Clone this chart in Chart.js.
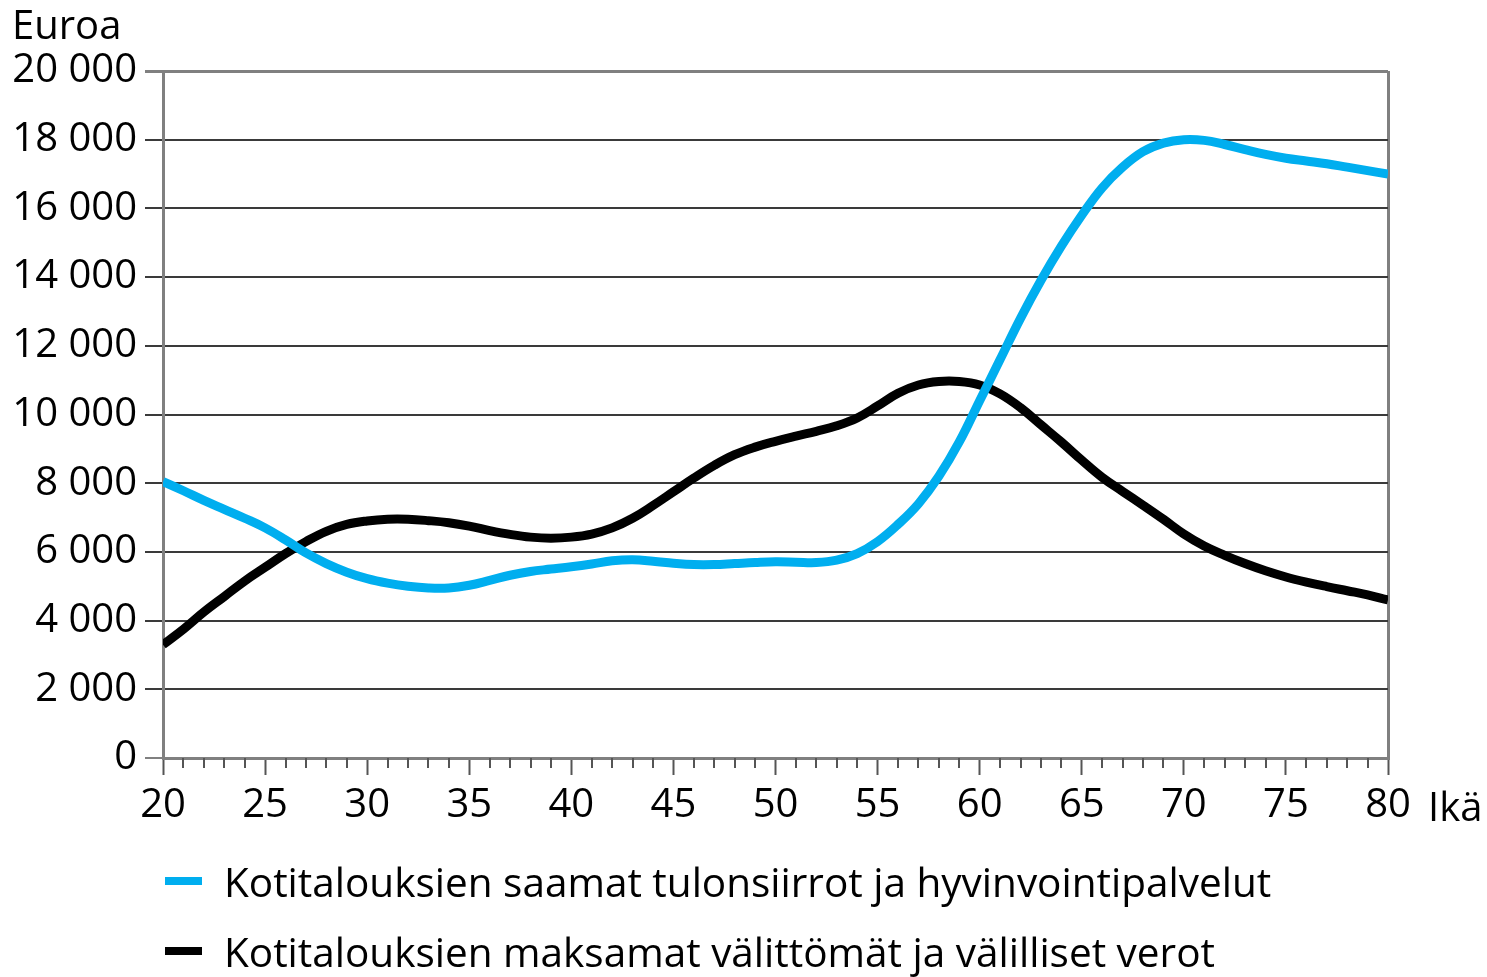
<!DOCTYPE html>
<html>
<head>
<meta charset="utf-8">
<script src="https://cdn.jsdelivr.net/npm/chart.js@4"></script>
<style>
  html, body { margin: 0; padding: 0; background: #fff; }
  #wrap { position: relative; width: 1487px; height: 977px; }
  #legend {
    position: absolute; left: 165px; top: 846px;
    font-family: "Open Sans", sans-serif; font-size: 40.5px; color: #000;
  }
  .item { height: 70px; display: flex; align-items: center; white-space: nowrap; }
  .swatch { width: 37px; height: 8px; margin-right: 22px; }
</style>
</head>
<body>
<div id="wrap">
  <canvas id="chart" width="1487" height="977"></canvas>
  <div id="legend"></div>
</div>
<script>
// age 20..80
const ages = [20, 21, 22, 23, 24, 25, 26, 27, 28, 29, 30, 31, 32, 33, 34, 35, 36, 37, 38, 39,
  40, 41, 42, 43, 44, 45, 46, 47, 48, 49, 50, 51, 52, 53, 54, 55, 56, 57, 58, 59,
  60, 61, 62, 63, 64, 65, 66, 67, 68, 69, 70, 71, 72, 73, 74, 75, 76, 77, 78, 79, 80];

// transfers and welfare services received
const received = [8050, 7780, 7500, 7240, 6980, 6700, 6350, 5970, 5660, 5410,
  5220, 5090, 5000, 4950, 4950, 5030, 5170, 5320, 5430, 5500,
  5570, 5650, 5740, 5770, 5730, 5670, 5630, 5630, 5660, 5690,
  5710, 5700, 5690, 5760, 5950, 6300, 6800, 7400, 8200, 9200,
  10400, 11600, 12800, 13900, 14900, 15800, 16600, 17200, 17650, 17900,
  18000, 17980, 17860, 17710, 17570, 17460, 17380, 17300, 17200, 17100, 17000];

// direct and indirect taxes paid
const paid = [3300, 3750, 4250, 4700, 5150, 5550, 5950, 6300, 6600, 6800,
  6900, 6950, 6950, 6910, 6850, 6750, 6620, 6510, 6430, 6400,
  6430, 6520, 6700, 6980, 7350, 7750, 8150, 8520, 8830, 9050,
  9220, 9370, 9510, 9670, 9900, 10250, 10620, 10860, 10960, 10960,
  10860, 10600, 10200, 9700, 9200, 8670, 8170, 7760, 7360, 6950,
  6520, 6170, 5900, 5660, 5450, 5270, 5120, 4990, 4870, 4750, 4600];

const yTicks = [0, 2000, 4000, 6000, 8000, 10000, 12000, 14000, 16000, 18000, 20000];
const labels = [
  "Kotitalouksien saamat tulonsiirrot ja hyvinvointipalvelut",
  "Kotitalouksien maksamat välittömät ja välilliset verot"
];
const colors = ["#00aeef", "#000000"];

const FONT = '"Open Sans", sans-serif';
const AXIS = "#808080";

function fmt(v) {
  return String(v).replace(/\B(?=(\d{3})+(?!\d))/g, " ");
}

// minor ticks + the two loose labels
const extras = {
  id: "extras",
  afterDraw(chart) {
    const { ctx, chartArea, scales } = chart;
    const x = scales.x;
    ctx.save();
    ctx.strokeStyle = "#555";
    ctx.lineWidth = 2;
    ages.forEach((a) => {
      if (a % 5 === 0) return;
      const px = Math.round(x.getPixelForValue(a));
      ctx.beginPath();
      ctx.moveTo(px, chartArea.bottom);
      ctx.lineTo(px, chartArea.bottom + 10);
      ctx.stroke();
    });
    ctx.fillStyle = "#000";
    ctx.font = "40px " + FONT;
    ctx.textBaseline = "alphabetic";
    ctx.textAlign = "left";
    ctx.fillText("Euroa", 12, 39);
    ctx.fillText("Ikä", x.getPixelForValue(80) + 40, 821);
    ctx.restore();
  }
};

const chart = new Chart(document.getElementById("chart"), {
  type: "line",
  data: {
    datasets: [
      {
        label: labels[0],
        data: ages.map((a, i) => ({ x: a, y: received[i] })),
        borderColor: colors[0],
        backgroundColor: colors[0],
        borderWidth: 9,
        pointRadius: 0,
        tension: 0.4
      },
      {
        label: labels[1],
        data: ages.map((a, i) => ({ x: a, y: paid[i] })),
        borderColor: colors[1],
        backgroundColor: colors[1],
        borderWidth: 9,
        pointRadius: 0,
        tension: 0.4
      }
    ]
  },
  options: {
    responsive: false,
    animation: false,
    layout: { padding: { top: 71, right: 99, bottom: 0, left: 0 } },
    plugins: { legend: { display: false }, tooltip: { enabled: false } },
    scales: {
      x: {
        type: "linear",
        min: 20,
        max: 80,
        afterFit: (s) => { s.height = 219; },
        border: { display: true, color: AXIS, width: 3 },
        grid: {
          drawOnChartArea: true,
          color: (c) => (c.tick && c.tick.value === 80 ? AXIS : "rgba(0,0,0,0)"),
          lineWidth: 3,
          tickLength: 17,
          tickColor: (c) => (c.tick && c.tick.value % 5 === 0 ? "#555" : "rgba(0,0,0,0)"),
          tickWidth: 2
        },
        ticks: {
          stepSize: 1,
          autoSkip: false,
          maxRotation: 0,
          padding: 7,
          color: "#000",
          font: { family: FONT, size: 40 },
          callback: (v) => (v % 5 === 0 ? String(v) : "")
        }
      },
      y: {
        min: 0,
        max: 20000,
        afterFit: (s) => { s.width = 163; },
        afterBuildTicks: (s) => { s.ticks = yTicks.map((v) => ({ value: v })); },
        border: { display: true, color: AXIS, width: 3 },
        grid: {
          color: (c) => (c.tick && (c.tick.value === 20000 || c.tick.value === 0) ? AXIS : "#3a3a3a"),
          lineWidth: (c) => (c.tick && c.tick.value === 20000 ? 3 : 2),
          tickLength: 18
        },
        ticks: {
          padding: 8,
          color: "#000",
          font: { family: FONT, size: 40 },
          callback: (v) => fmt(v)
        }
      }
    }
  },
  plugins: [extras]
});

// legend as html, built from the datasets
const legendEl = document.getElementById("legend");
chart.data.datasets.forEach((ds) => {
  const row = document.createElement("div");
  row.className = "item";
  const sw = document.createElement("span");
  sw.className = "swatch";
  sw.style.background = ds.borderColor;
  const t = document.createElement("span");
  t.textContent = ds.label;
  row.appendChild(sw);
  row.appendChild(t);
  legendEl.appendChild(row);
});
</script>
</body>
</html>
